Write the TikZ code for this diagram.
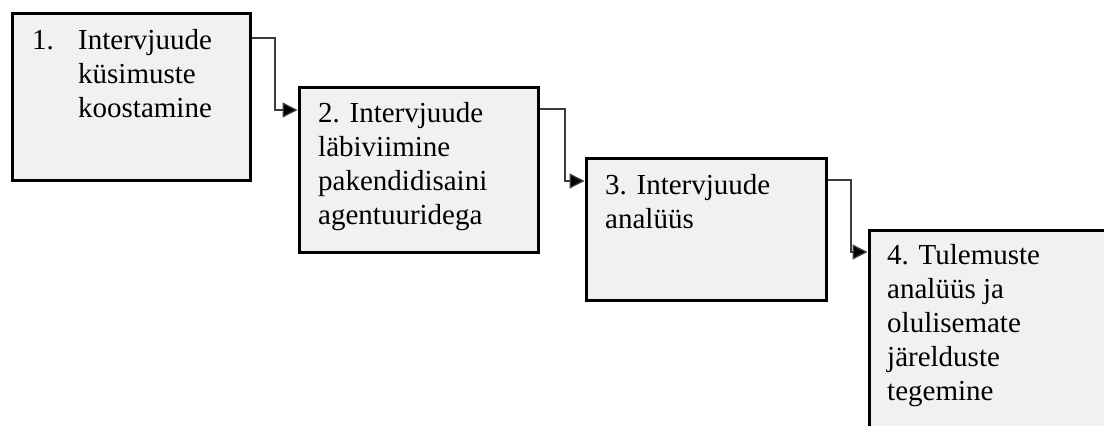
\documentclass[tikz,border=0pt]{standalone}
\usepackage{fontspec}
\setmainfont{Liberation Serif}
\usetikzlibrary{arrows.meta}
\definecolor{boxfill}{RGB}{241,241,241}
\definecolor{linkgray}{RGB}{60,60,60}
\begin{document}
\begin{tikzpicture}[x=1pt,y=1pt,
  stepbox/.style={draw=black,line width=3pt,fill=boxfill,rectangle,anchor=north west,inner sep=0pt},
  steptext/.style={anchor=base west,inner sep=0pt,font=\fontsize{29}{34}\selectfont},
  conn/.style={draw=linkgray,line width=1.3pt,-{Triangle[length=15pt,width=15pt,fill=black]}}]
\useasboundingbox (0,0) rectangle (1104,426);
\clip (0,0) rectangle (1104,426);
% process steps
\node[stepbox,minimum width=238pt,minimum height=167pt] (b1) at (10.5,413.5) {};
\node[stepbox,minimum width=239pt,minimum height=165pt] (b2) at (297.5,339.5) {};
\node[stepbox,minimum width=240pt,minimum height=142pt] (b3) at (584.5,268.5) {};
\node[stepbox,minimum width=300pt,minimum height=250pt] (b4) at (867.5,196.5) {};
% step labels
\node[steptext] (n1) at (32,376) {1.};
\node[steptext] (t1) at (78,376) {\parbox[t]{170pt}{\raggedright Intervjuude\\küsimuste\\koostamine}};
\node[steptext] (t2) at (318,303) {\parbox[t]{215pt}{\raggedright 2. Intervjuude\\läbiviimine\\pakendidisaini\\agentuuridega}};
\node[steptext] (t3) at (605,231) {\parbox[t]{215pt}{\raggedright 3. Intervjuude\\analüüs}};
\node[steptext] (t4) at (887,161) {\parbox[t]{210pt}{\raggedright 4. Tulemuste\\analüüs ja\\olulisemate\\järelduste\\tegemine}};
% elbow connectors
\draw[conn] ([yshift=-25.5]b1.north east) -- ++(23.5,0) |- ([yshift=-23.5]b2.north west);
\draw[conn] ([yshift=-22.5]b2.north east) -- ++(25.5,0) |- ([yshift=-23.5]b3.north west);
\draw[conn] ([yshift=-22.5]b3.north east) -- ++(23.5,0) |- ([yshift=-22.5]b4.north west);
\end{tikzpicture}
\end{document}
